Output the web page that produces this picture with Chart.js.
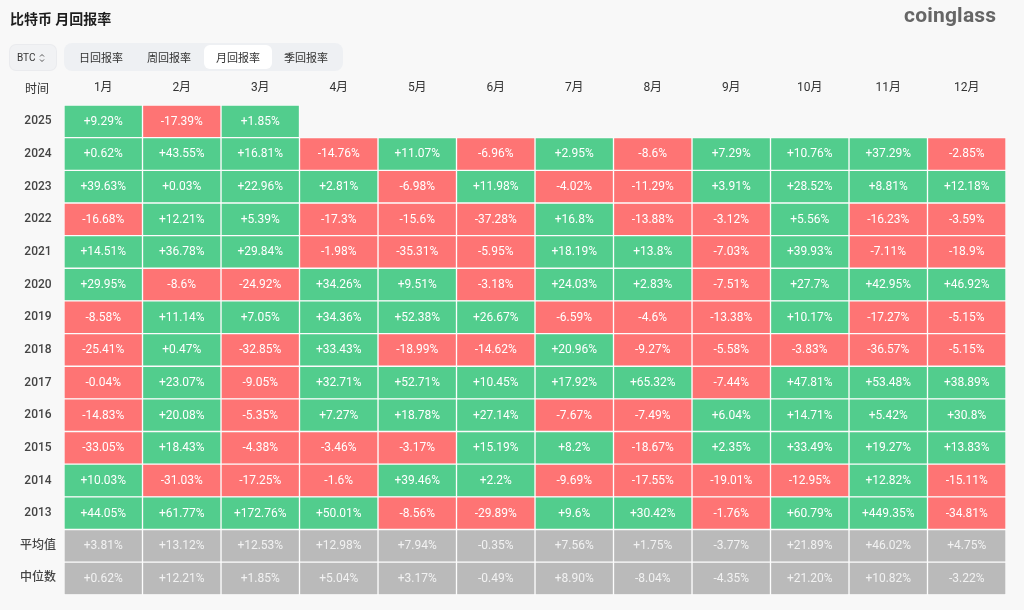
<!DOCTYPE html>
<html>
<head>
<meta charset="utf-8">
<script src="https://cdn.jsdelivr.net/npm/chart.js@4.4.1/dist/chart.umd.min.js"></script>
<style>
  html, body { margin: 0; padding: 0; background: #f8f8f8; }
  #wrap { position: relative; width: 1024px; height: 610px; overflow: hidden; font-family: "Noto Sans CJK SC", Roboto, sans-serif; }
  #chart { position: absolute; left: 0; top: 0; }
  .title { position: absolute; left: 10px; top: 8px; font-size: 14px; font-weight: 700; color: #1e1e1e; }
  .logo { position: absolute; left: 904px; top: 3px; font-family: Roboto, sans-serif; font-size: 21px; font-weight: 700; color: #666; letter-spacing: 0.2px; }
  .coin { position: absolute; left: 10px; top: 45px; width: 46px; height: 25px; background: #f1f2f4; border-radius: 6px; box-shadow: 0 0 0 1px #eaebee; font-family: Roboto, sans-serif; font-size: 10px; color: #333; display: flex; align-items: center; padding-left: 7px; box-sizing: border-box; }
  .coin svg { margin-left: 4px; }
  .tabs { position: absolute; left: 64px; top: 43px; width: 279px; height: 28px; background: #eef0f3; border-radius: 8px; }
  .tab { position: absolute; top: 2px; width: 68px; height: 24px; line-height: 24px; text-align: center; font-size: 11px; color: #333; border-radius: 6px; }
  .tab.on { background: #fff; }
</style>
</head>
<body>
<div id="wrap">
  <canvas id="chart" width="1024" height="610"></canvas>
  <div class="title">比特币 月回报率</div>
  <div class="logo">coinglass</div>
  <div class="coin">BTC<svg width="6" height="10" viewBox="0 0 6 10"><path d="M1 3.5 L3 1.5 L5 3.5 M1 6.5 L3 8.5 L5 6.5" fill="none" stroke="#555" stroke-width="1"/></svg></div>
  <div class="tabs">
    <div class="tab" style="left:3px">日回报率</div>
    <div class="tab" style="left:71px">周回报率</div>
    <div class="tab on" style="left:140px">月回报率</div>
    <div class="tab" style="left:208px">季回报率</div>
  </div>
</div>
<script>
// ============ DATA ============
const months = ["1月", "2月", "3月", "4月", "5月", "6月", "7月", "8月", "9月", "10月", "11月", "12月"];
const rowLabels = ["2025", "2024", "2023", "2022", "2021", "2020", "2019", "2018", "2017", "2016", "2015", "2014", "2013", "平均值", "中位数"];

const y2025 = [9.29, -17.39, 1.85, null, null, null, null, null, null, null, null, null];
const y2024 = [0.62, 43.55, 16.81, -14.76, 11.07, -6.96, 2.95, -8.6, 7.29, 10.76, 37.29, -2.85];
const y2023 = [39.63, 0.03, 22.96, 2.81, -6.98, 11.98, -4.02, -11.29, 3.91, 28.52, 8.81, 12.18];
const y2022 = [-16.68, 12.21, 5.39, -17.3, -15.6, -37.28, 16.8, -13.88, -3.12, 5.56, -16.23, -3.59];
const y2021 = [14.51, 36.78, 29.84, -1.98, -35.31, -5.95, 18.19, 13.8, -7.03, 39.93, -7.11, -18.9];
const y2020 = [29.95, -8.6, -24.92, 34.26, 9.51, -3.18, 24.03, 2.83, -7.51, 27.7, 42.95, 46.92];
const y2019 = [-8.58, 11.14, 7.05, 34.36, 52.38, 26.67, -6.59, -4.6, -13.38, 10.17, -17.27, -5.15];
const y2018 = [-25.41, 0.47, -32.85, 33.43, -18.99, -14.62, 20.96, -9.27, -5.58, -3.83, -36.57, -5.15];
const y2017 = [-0.04, 23.07, -9.05, 32.71, 52.71, 10.45, 17.92, 65.32, -7.44, 47.81, 53.48, 38.89];
const y2016 = [-14.83, 20.08, -5.35, 7.27, 18.78, 27.14, -7.67, -7.49, 6.04, 14.71, 5.42, 30.8];
const y2015 = [-33.05, 18.43, -4.38, -3.46, -3.17, 15.19, 8.2, -18.67, 2.35, 33.49, 19.27, 13.83];
const y2014 = [10.03, -31.03, -17.25, -1.6, 39.46, 2.2, -9.69, -17.55, -19.01, -12.95, 12.82, -15.11];
const y2013 = [44.05, 61.77, 172.76, 50.01, -8.56, -29.89, 9.6, 30.42, -1.76, 60.79, 449.35, -34.81];
const avgRow = [3.81, 13.12, 12.53, 12.98, 7.94, -0.35, 7.56, 1.75, -3.77, 21.89, 46.02, 4.75];
const medianRow = [0.62, 12.21, 1.85, 5.04, 3.17, -0.49, 8.90, -8.04, -4.35, 21.20, 10.82, -3.22];

const table = [y2025, y2024, y2023, y2022, y2021, y2020, y2019, y2018, y2017, y2016, y2015, y2014, y2013, avgRow, medianRow];
const statRows = 2;

const GREEN = "#52cd8d";
const RED = "#fe7474";
const GREY = "#bababa";
const GAP = "#fcfcfc";

function isStat(row) {
  return row >= table.length - statRows;
}

function fmt(v, row) {
  const s = row === table.length - 1 ? v.toFixed(2) : String(v);
  return (v >= 0 ? "+" : "") + s + "%";
}

// one dataset per month, each cell is a floating bar [m, m+1]
const datasets = months.map((m, mi) => ({
  label: m,
  data: table.map((r) => (r[mi] === null ? null : [mi, mi + 1])),
  backgroundColor: table.map((r, ri) => (isStat(ri) ? GREY : r[mi] >= 0 ? GREEN : RED)),
  borderColor: GAP,
  borderWidth: 1,
  borderSkipped: false,
  grouped: false,
  categoryPercentage: 1,
  barPercentage: 1
}));

// ============ TEXT IN CELLS ============
const cellText = {
  id: "cellText",
  afterDatasetsDraw(chart) {
    const ctx = chart.ctx;
    ctx.save();
    ctx.textAlign = "center";
    ctx.textBaseline = "middle";
    chart.data.datasets.forEach((ds, mi) => {
      chart.getDatasetMeta(mi).data.forEach((bar, ri) => {
        const v = table[ri][mi];
        if (v === null || v === undefined) return;
        ctx.fillStyle = isStat(ri) ? "#f2f2f2" : "#ffffff";
        ctx.font = "400 12px Roboto, sans-serif";
        ctx.fillText(fmt(v, ri), (bar.x + bar.base) / 2, bar.y + 0.5);
      });
    });
    // corner header
    ctx.fillStyle = "#333";
    ctx.font = "400 12px 'Noto Sans CJK SC', sans-serif";
    ctx.fillText("时间", 37, 88);
    ctx.restore();
  }
};

new Chart(document.getElementById("chart"), {
  type: "bar",
  data: { labels: rowLabels, datasets },
  plugins: [cellText],
  options: {
    indexAxis: "y",
    responsive: false,
    animation: false,
    events: [],
    layout: { padding: { top: 75, right: 18, bottom: 10, left: 0 } },
    plugins: { legend: { display: false }, tooltip: { enabled: false } },
    scales: {
      x: { type: "linear", min: 0, max: 12, display: false },
      xTop: {
        type: "category",
        labels: months,
        position: "top",
        offset: true,
        grid: { display: false, drawTicks: false },
        border: { display: false },
        ticks: { color: "#333", padding: 10, font: { size: 12, family: "Roboto, 'Noto Sans CJK SC', sans-serif" } },
        afterFit: (s) => { s.height = 30; }
      },
      y: {
        type: "category",
        grid: { display: false, drawTicks: false },
        border: { display: false },
        ticks: {
          color: "#444",
          padding: 8,
          crossAlign: "center",
          font: { size: 12, weight: "500", family: "Roboto, 'Noto Sans CJK SC', sans-serif" }
        },
        afterFit: (s) => { s.width = 64; }
      }
    }
  }
});
</script>
</body>
</html>
